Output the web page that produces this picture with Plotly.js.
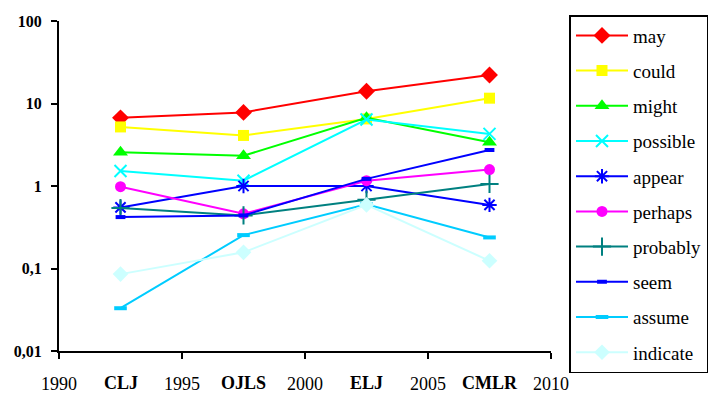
<!DOCTYPE html>
<html>
<head>
<meta charset="utf-8">
<script src="https://cdn.plot.ly/plotly-3.0.1.min.js"></script>
<style>html,body{margin:0;padding:0;background:#fff;}#chart{width:713px;height:395px;}</style>
</head>
<body>
<div id="chart"></div>
<script>
// Journals (categories) and their positions on the year axis
const categories = ['CLJ', 'OJLS', 'ELJ', 'CMLR'];
const categoryYears = [1992.5, 1997.5, 2002.5, 2007.5];

// Frequencies (log scale) per hedge word
const may      = [6.7, 7.8, 14.1, 22.2];
const could    = [5.2, 4.1, 6.5, 11.6];
const might    = [2.56, 2.33, 6.7, 3.39];
const possible = [1.52, 1.16, 6.4, 4.28];
const appear   = [0.55, 1.0, 1.0, 0.59];
const perhaps  = [0.98, 0.46, 1.16, 1.58];
const probably = [0.54, 0.44, 0.68, 1.06];
const seem     = [0.42, 0.44, 1.22, 2.73];
const assume   = [0.033, 0.254, 0.6, 0.238];
const indicate = [0.0855, 0.157, 0.59, 0.124];

const yTickVals = [0.01, 0.1, 1, 10, 100];
const yTickText = ['0,01', '0,1', '1', '10', '100'];
const xTickVals = [1990, 1995, 2000, 2005, 2010];

const series = [
  {name: 'may', y: may, color: '#FF0000', symbol: 'diamond', size: 13, lw: 0},
  {name: 'could', y: could, color: '#FFFF00', symbol: 'square', size: 11, lw: 0},
  {name: 'might', y: might, color: '#00FF00', symbol: 'triangle-up', size: 13, lw: 0},
  {name: 'possible', y: possible, color: '#00FFFF', symbol: 'x-thin', size: 12, lw: 2},
  {name: 'appear', y: appear, color: '#0000FF', symbol: 'asterisk', size: 12, lw: 2},
  {name: 'perhaps', y: perhaps, color: '#FF00FF', symbol: 'circle', size: 11, lw: 0},
  {name: 'probably', y: probably, color: '#008080', symbol: 'cross-thin', size: 13, lw: 2},
  {name: 'seem', y: seem, color: '#0000FF', symbol: 'line-ew', size: 7, lw: 4},
  {name: 'assume', y: assume, color: '#00CCFF', symbol: 'line-ew', size: 9, lw: 4},
  {name: 'indicate', y: indicate, color: '#CCFFFF', symbol: 'diamond', size: 12, lw: 0}
];

const traces = series.map((s, i) => ({
  type: 'scatter',
  mode: 'lines+markers',
  name: s.name,
  x: categoryYears,
  y: s.y,
  legendgroup: 'g' + i,
  line: {color: s.color, width: 2},
  marker: {color: s.color, symbol: s.symbol, size: s.size,
           line: {color: s.color, width: s.lw}},
  cliponaxis: false
}));

const serif = 'Liberation Serif';

const annotations = categories.map((c, i) => ({
  text: '<b>' + c + '</b>',
  x: categoryYears[i], xref: 'x',
  y: -0.097, yref: 'paper',
  xanchor: 'center', yanchor: 'middle',
  showarrow: false,
  font: {family: serif, size: 18, color: '#000'}
}));

const layout = {
  width: 713, height: 395,
  margin: {l: 59, r: 162, t: 21, b: 44, autoexpand: false},
  paper_bgcolor: '#fff', plot_bgcolor: '#fff',
  showlegend: true,
  legend: {
    x: 1.0376, xanchor: 'left', y: 1.018, yanchor: 'top',
    bordercolor: '#000', borderwidth: 1.5, bgcolor: '#fff',
    font: {family: serif, size: 19, color: '#000'},
    traceorder: 'grouped', tracegroupgap: 7.5,
    itemwidth: 52,
    maxheight: 390
  },
  xaxis: {
    range: [1990, 2010], tickvals: xTickVals, ticktext: xTickVals.map(String),
    showline: true, linecolor: '#000', linewidth: 2,
    ticks: 'outside', ticklen: 6, tickwidth: 2, tickcolor: '#000',
    showgrid: false, zeroline: false,
    tickfont: {family: serif, size: 18, color: '#000'},
    ticklabelstandoff: 9
  },
  yaxis: {
    type: 'log', range: [-2, 2], tickvals: yTickVals, ticktext: yTickText,
    showline: true, linecolor: '#000', linewidth: 2,
    ticks: 'outside', ticklen: 6, tickwidth: 2, tickcolor: '#000',
    showgrid: false, zeroline: false,
    tickfont: {family: serif, size: 16, color: '#000', weight: 'bold'},
    ticklabelstandoff: 6
  },
  annotations: annotations
};

Plotly.newPlot('chart', traces, layout, {staticPlot: true, displayModeBar: false});
</script>
</body>
</html>
